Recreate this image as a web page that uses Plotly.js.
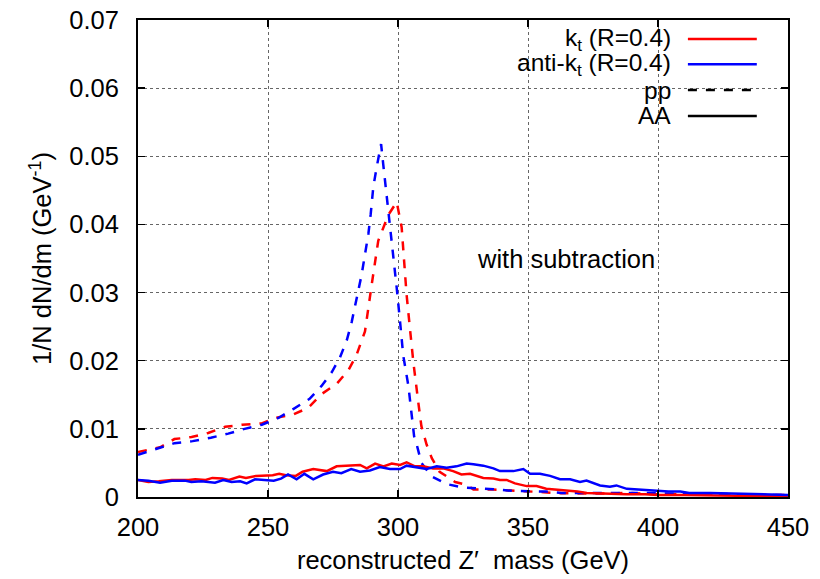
<!DOCTYPE html>
<html>
<head>
<meta charset="utf-8">
<script src="https://cdn.plot.ly/plotly-3.0.1.min.js"></script>
<style>html,body{margin:0;padding:0;background:#fff;}#plot{width:820px;height:579px;}</style>
</head>
<body>
<div id="plot"></div>
<script>
// k_t (R=0.4), pp  (red dashed)
const ktPPMass = [200, 208.5, 214, 220.6, 227, 233.5, 240, 247.6, 252.7, 259.7, 265.5, 270.6, 276.4, 280.9, 284, 287.3, 289.9, 292.4, 296.3, 299.5, 301.4, 302, 303.3, 304.6, 305.9, 307.8, 309, 311, 313, 316, 322, 326.4, 329, 336.7, 343, 349.5, 356, 362, 369, 375, 381, 388, 395, 400, 410, 420, 430, 440, 450];
const ktPPVal  = [0.0066, 0.0073, 0.0085, 0.0088, 0.0094, 0.0103, 0.0106, 0.0108, 0.0116, 0.0121, 0.0131, 0.0151, 0.0166, 0.0186, 0.0208, 0.0243, 0.0312, 0.0376, 0.0414, 0.0433, 0.0396, 0.0361, 0.0297, 0.0247, 0.0198, 0.0139, 0.0104, 0.0077, 0.0057, 0.0037, 0.0022, 0.0018, 0.0011, 0.0011, 0.0010, 0.0009, 0.0007, 0.00055, 0.0005, 0.0005, 0.0005, 0.0006, 0.0005, 0.0004, 0.0004, 0.0004, 0.0004, 0.0003, 0.0003];

// anti-k_t (R=0.4), pp  (blue dashed)
const antiPPMass = [200, 207.8, 214, 221, 228, 234.7, 241, 247.6, 254, 259.7, 266, 270.6, 274.5, 277.7, 280.3, 282.2, 283.5, 284.7, 286, 287.3, 288.6, 289.5, 290.5, 291.8, 293.5, 294.3, 295.6, 296.9, 298.2, 299.5, 300.8, 302, 304, 305.3, 306.2, 307.2, 309, 313, 318.7, 325, 331.5, 338, 344, 350.5, 357, 363, 370, 377, 384, 390, 396, 402, 410, 418, 426, 434, 442, 450];
const antiPPVal  = [0.0062, 0.0071, 0.0079, 0.0082, 0.0087, 0.0093, 0.0100, 0.0106, 0.0116, 0.0129, 0.0144, 0.0163, 0.0183, 0.0205, 0.0230, 0.0257, 0.0280, 0.0302, 0.0326, 0.0356, 0.0386, 0.0415, 0.0455, 0.0484, 0.0518, 0.0489, 0.0445, 0.0400, 0.0356, 0.0307, 0.0257, 0.0208, 0.0163, 0.0124, 0.0089, 0.0077, 0.0050, 0.0030, 0.0019, 0.0014, 0.0013, 0.0011, 0.0009, 0.0009, 0.0008, 0.0006, 0.0006, 0.0006, 0.0006, 0.0007, 0.0006, 0.0005, 0.0005, 0.0004, 0.0005, 0.0004, 0.0003, 0.0003];

// k_t (R=0.4), AA  (red solid)
const ktAAMass = [200, 204, 208, 213, 219.5, 222, 226, 228.6, 232.4, 235, 239, 241.5, 245.4, 249.2, 251.8, 254.3, 256.9, 260.7, 263.3, 267.4, 272.6, 276.4, 281.5, 285.4, 288, 291.2, 294.4, 297.6, 300.8, 303.3, 306.5, 309.7, 313.5, 317.4, 321.2, 324.4, 327.7, 332.8, 336.7, 339.2, 341.8, 345, 349.5, 353.3, 357, 361, 365, 369, 372.6, 377.7, 383, 388, 395, 400, 410, 420, 430, 440, 450];
const ktAAVal  = [0.0025, 0.0022, 0.0023, 0.0025, 0.0025, 0.0026, 0.0025, 0.0028, 0.0027, 0.0025, 0.0030, 0.0028, 0.0031, 0.0031, 0.0032, 0.0034, 0.0032, 0.0031, 0.0037, 0.0041, 0.0038, 0.0045, 0.0046, 0.0047, 0.0042, 0.0049, 0.0045, 0.0049, 0.0047, 0.0051, 0.0045, 0.0045, 0.0042, 0.0042, 0.0038, 0.0033, 0.0034, 0.0028, 0.0027, 0.0025, 0.0025, 0.0020, 0.0016, 0.0016, 0.0012, 0.0011, 0.0009, 0.0008, 0.0006, 0.0005, 0.0004, 0.0004, 0.0004, 0.0003, 0.0003, 0.0002, 0.0002, 0.0002, 0.0001];

// anti-k_t (R=0.4), AA  (blue solid)
const antiAAMass = [200, 204, 208.5, 213, 218, 220.5, 224.4, 229.6, 232.8, 236, 239.3, 241.8, 245, 249, 252.2, 255, 257.7, 261, 264, 267.4, 271.2, 275, 278.2, 282, 285.4, 289.2, 293, 296.9, 300.8, 303.3, 307.2, 311, 314.9, 318.7, 322.5, 326.4, 329, 332.8, 336.7, 339.2, 344.4, 348.2, 350.8, 354.6, 358.5, 362.3, 366.2, 370, 372.5, 375, 377.7, 381.5, 384, 388, 391.8, 398.2, 404, 408.6, 412, 420, 430, 440, 450];
const antiAAVal  = [0.0025, 0.0024, 0.0021, 0.0024, 0.0024, 0.0022, 0.0023, 0.0021, 0.0025, 0.0022, 0.0023, 0.0020, 0.0026, 0.0025, 0.0024, 0.0027, 0.0033, 0.0026, 0.0034, 0.0026, 0.0033, 0.0037, 0.0035, 0.0041, 0.0037, 0.0039, 0.0044, 0.0041, 0.0041, 0.0046, 0.0043, 0.0041, 0.0045, 0.0043, 0.0045, 0.0049, 0.0048, 0.0046, 0.0042, 0.0038, 0.0038, 0.0041, 0.0034, 0.0034, 0.0031, 0.0026, 0.0026, 0.0022, 0.0024, 0.0021, 0.0017, 0.0015, 0.0017, 0.0012, 0.0011, 0.0009, 0.0008, 0.0008, 0.0006, 0.0006, 0.0005, 0.0003, 0.0003];

const xTicks = [200, 250, 300, 350, 400, 450];
const yTicks = [0, 0.01, 0.02, 0.03, 0.04, 0.05, 0.06, 0.07];
const yTickText = ['0', '0.01', '0.02', '0.03', '0.04', '0.05', '0.06', '0.07'];

const legendLabels = ['k<sub>t</sub> (R=0.4)', 'anti-k<sub>t</sub> (R=0.4)', 'pp', 'AA'];
const legendColors = ['#ff0000', '#0000ff', '#000000', '#000000'];
const legendDash = ['solid', 'solid', 'dash', 'solid'];

const RED = '#ff0000', BLUE = '#0000ff';
const FONT = 'Liberation Sans, Arial, Helvetica, sans-serif';
const DASH = '9px,9px';
const LW = 2.5;
const FS = 25.5;

const traces = [
  {x: ktPPMass, y: ktPPVal, mode: 'lines', line: {color: RED, width: LW, dash: DASH}},
  {x: antiPPMass, y: antiPPVal, mode: 'lines', line: {color: BLUE, width: LW, dash: DASH}},
  {x: ktAAMass, y: ktAAVal, mode: 'lines', line: {color: RED, width: LW}},
  {x: antiAAMass, y: antiAAVal, mode: 'lines', line: {color: BLUE, width: LW}}
];

// legend built gnuplot-style (text right-aligned, sample on the right)
const rowY = [0.960, 0.907, 0.853, 0.799];
const annotations = legendLabels.map((t, i) => ({
  xref: 'paper', yref: 'paper', x: 0.823, y: rowY[i], xanchor: 'right', yanchor: 'middle',
  text: t, showarrow: false, font: {family: FONT, size: 24.5, color: '#000'}
}));
annotations.push({
  xref: 'paper', yref: 'paper', x: 0.518, y: 0.499, xanchor: 'left', yanchor: 'middle',
  text: 'with subtraction', showarrow: false, font: {family: FONT, size: FS, color: '#000'}
});

const shapes = [{
  type: 'rect', xref: 'paper', yref: 'paper', x0: 0.4877, x1: 0.9754, y0: 0.7736, y1: 0.998,
  fillcolor: '#ffffff', line: {width: 0}, layer: 'between'
}];
legendLabels.forEach((t, i) => {
  shapes.push({
    type: 'line', xref: 'paper', yref: 'paper', x0: 0.846, x1: 0.952, y0: rowY[i], y1: rowY[i],
    line: {color: legendColors[i], width: LW, dash: legendDash[i]}, layer: 'above'
  });
});

const axisCommon = {
  showline: true, linecolor: '#000', linewidth: 2, mirror: 'allticks',
  ticks: 'inside', ticklen: 7, tickwidth: 1.5, tickcolor: '#000',
  showgrid: true, gridcolor: '#666', gridwidth: 1, griddash: 'dot',
  zeroline: false, tickfont: {family: FONT, size: FS, color: '#000'}
};

const layout = {
  width: 820, height: 579,
  margin: {l: 138, r: 32, t: 20, b: 82},
  paper_bgcolor: '#fff', plot_bgcolor: '#fff',
  showlegend: false,
  font: {family: FONT, color: '#000'},
  xaxis: Object.assign({}, axisCommon, {
    range: [200, 450], tickvals: xTicks, ticktext: xTicks.map(String),
    ticklabelstandoff: 6,
    title: {text: 'reconstructed Z\u2032  mass (GeV)', font: {family: FONT, size: FS, color: '#000'}, standoff: 12}
  }),
  yaxis: Object.assign({}, axisCommon, {
    range: [0, 0.07], tickvals: yTicks, ticktext: yTickText,
    ticklabelstandoff: 12,
    title: {text: '1/N dN/dm (GeV<sup>-1</sup>)', font: {family: FONT, size: FS, color: '#000'}, standoff: 10}
  }),
  annotations: annotations,
  shapes: shapes
};

Plotly.newPlot('plot', traces, layout, {displayModeBar: false, staticPlot: true});
</script>
</body>
</html>
